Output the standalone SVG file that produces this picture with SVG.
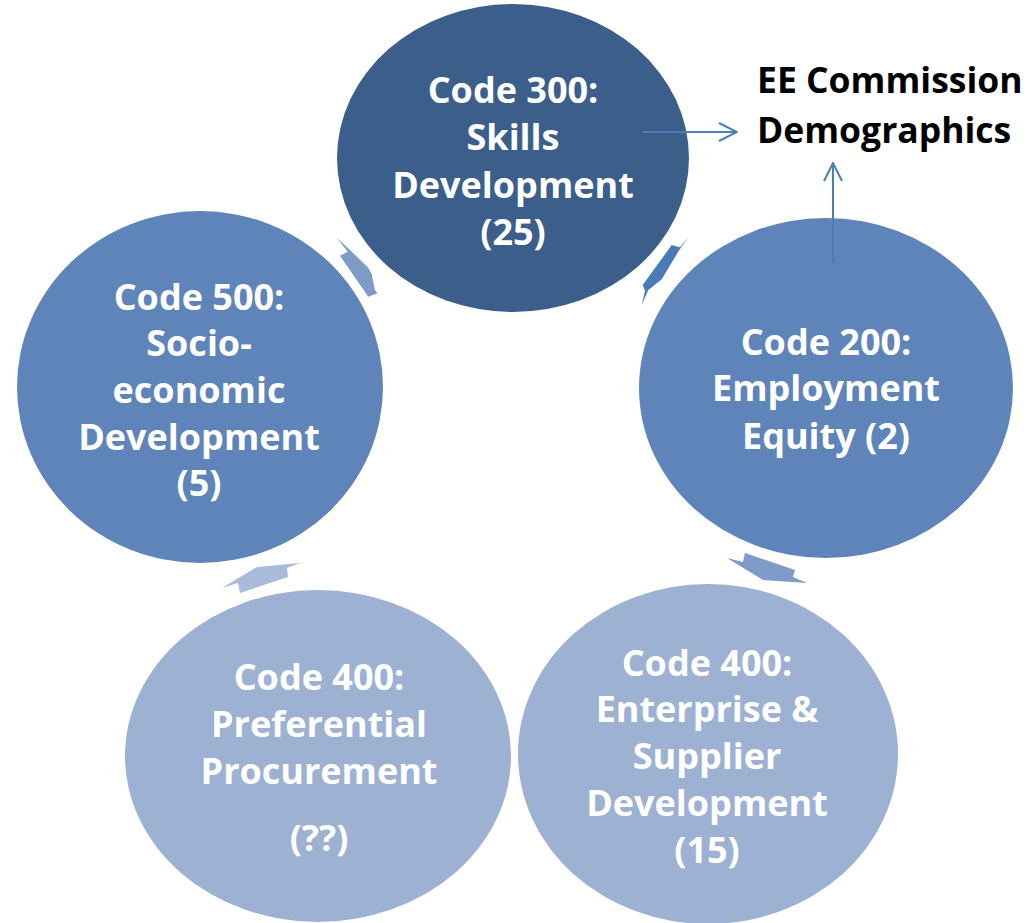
<svg xmlns="http://www.w3.org/2000/svg" width="1029" height="923" viewBox="0 0 1029 923">
  <style>
    .lbl { font-family: "Open Sans", "Liberation Sans", sans-serif; font-weight: 700; font-size: 36px; fill: #ffffff; text-anchor: middle; }
    .ext { font-family: "Open Sans", "Liberation Sans", sans-serif; font-weight: 700; font-size: 35.5px; fill: #000000; }
    .conn { stroke: #4A7EBB; stroke-width: 2; fill: none; }
  </style>
  <defs>
    <marker id="open" viewBox="0 0 20 20" refX="19" refY="10" markerWidth="20" markerHeight="20" markerUnits="userSpaceOnUse" orient="auto">
      <polyline points="1,1 19,10 1,19" fill="none" stroke="#4A7EBB" stroke-width="2"/>
    </marker>
  </defs>

  <rect width="1029" height="923" fill="#ffffff"/>

  <!-- cycle arrows between the circles -->
  <g id="cycle-arrows">
    <polygon points="336.7,237.7 347.7,251.7 340,255.7 368.3,296.7 377.7,293.3 386.7,305 375,290 371.7,274.3 368.3,267.7 350,250" fill="#7E9BC8"/>
    <polygon points="671.7,245 680,247.3 688.3,237.3 679.3,250 661.7,279.3 648.3,290 641.7,305 645,290.7 642.7,285" fill="#4A7BB7"/>
    <polygon points="727,558 743,562 745,553 795,570 793,577 807,583 763,580" fill="#7E9BCA"/>
    <polygon points="222,588 238,583 240,593 288,577 287,568 300,563 257,567" fill="#A9BBD9"/>
  </g>

  <g id="node-code300">
    <ellipse cx="513" cy="158" rx="176" ry="154" fill="#3B5E8B"/>
    <text class="lbl" x="513" y="103">Code 300:</text>
    <text class="lbl" x="513" y="150">Skills</text>
    <text class="lbl" x="513" y="198">Development</text>
    <text class="lbl" x="513" y="245">(25)</text>
  </g>

  <g id="node-code200">
    <ellipse cx="826" cy="388" rx="187" ry="170" fill="#5F84B9"/>
    <text class="lbl" x="826" y="355">Code 200:</text>
    <text class="lbl" x="826" y="401">Employment</text>
    <text class="lbl" x="826" y="449">Equity (2)</text>
  </g>

  <g id="node-code500">
    <ellipse cx="200" cy="387" rx="183" ry="176" fill="#5F84B9"/>
    <text class="lbl" x="199" y="310">Code 500:</text>
    <text class="lbl" x="199" y="356">Socio-</text>
    <text class="lbl" x="199" y="403">economic</text>
    <text class="lbl" x="199" y="450">Development</text>
    <text class="lbl" x="199" y="496">(5)</text>
  </g>

  <g id="node-code400-pp">
    <ellipse cx="318" cy="756" rx="193" ry="166" fill="#9DB1D3"/>
    <text class="lbl" x="319" y="690">Code 400:</text>
    <text class="lbl" x="319" y="737">Preferential</text>
    <text class="lbl" x="319" y="784">Procurement</text>
    <text class="lbl" x="319" y="851">(??)</text>
  </g>

  <g id="node-code400-esd">
    <ellipse cx="708" cy="754" rx="190" ry="170" fill="#9DB1D3"/>
    <text class="lbl" x="707" y="676">Code 400:</text>
    <text class="lbl" x="707" y="722">Enterprise &amp;</text>
    <text class="lbl" x="707" y="769">Supplier</text>
    <text class="lbl" x="707" y="816">Development</text>
    <text class="lbl" x="707" y="863">(15)</text>
  </g>

  <g id="node-ee">
    <text class="ext" x="757" y="93">EE Commission</text>
    <text class="ext" x="757" y="143">Demographics</text>
  </g>

  <g id="connectors">
    <line class="conn" x1="642" y1="132" x2="737" y2="132" marker-end="url(#open)"/>
    <line class="conn" x1="833" y1="263" x2="833" y2="163" marker-end="url(#open)"/>
  </g>
</svg>
